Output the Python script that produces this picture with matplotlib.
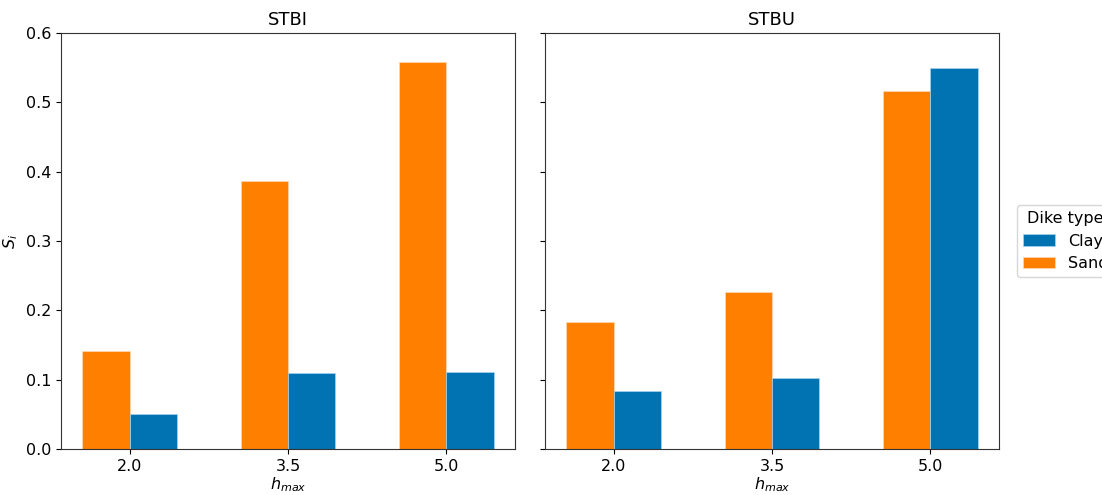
import matplotlib
matplotlib.use("Agg")
import matplotlib.pyplot as plt
import numpy as np

categories = ["2.0", "3.5", "5.0"]
panels = ["STBI", "STBU"]
sand_values = {"STBI": [0.141, 0.386, 0.558], "STBU": [0.183, 0.226, 0.517]}
clay_values = {"STBI": [0.051, 0.110, 0.111], "STBU": [0.083, 0.103, 0.550]}

sand_color = "#ff7f00"
clay_color = "#0173b2"

fig = plt.figure(figsize=(11.02, 4.95), dpi=100)
W, H = 1102, 495
ax1 = fig.add_axes([61 / W, 1 - 449 / H, 454 / W, 416 / H])
ax2 = fig.add_axes([545 / W, 1 - 449 / H, 454 / W, 416 / H], sharey=ax1)

x = np.arange(len(categories))
width = 0.3
handles = None
for ax, name in zip([ax1, ax2], panels):
    bs = ax.bar(x - width / 2, sand_values[name], width, color=sand_color,
                edgecolor="#ffd9b0", linewidth=0.5, label="Sand")
    bc = ax.bar(x + width / 2, clay_values[name], width, color=clay_color,
                edgecolor="#a8d4f0", linewidth=0.5, label="Clay")
    handles = [bc, bs]
    ax.set_xticks(x)
    ax.set_xticklabels(categories)
    ax.set_xlim(-0.434, len(categories) - 1 + 0.434)
    ax.set_title(name, fontsize=13)
    ax.set_xlabel(r"$h_{max}$", fontsize=11.5, labelpad=1)
    ax.tick_params(labelsize=11.5)
    for s in ax.spines.values():
        s.set_color("#333333")

ax1.set_ylim(0, 0.6)
ax1.set_ylabel(r"$S_i$", fontsize=11.5)
plt.setp(ax2.get_yticklabels(), visible=False)

fig.legend(handles, ["Clay", "Sand"], title="Dike type", loc="upper left",
           bbox_to_anchor=(1016.7 / W, 1 - 205 / H), fontsize=11.5, title_fontsize=11.5,
           frameon=True, borderaxespad=0, labelspacing=0.45)

fig.savefig("out.png", dpi=100)
